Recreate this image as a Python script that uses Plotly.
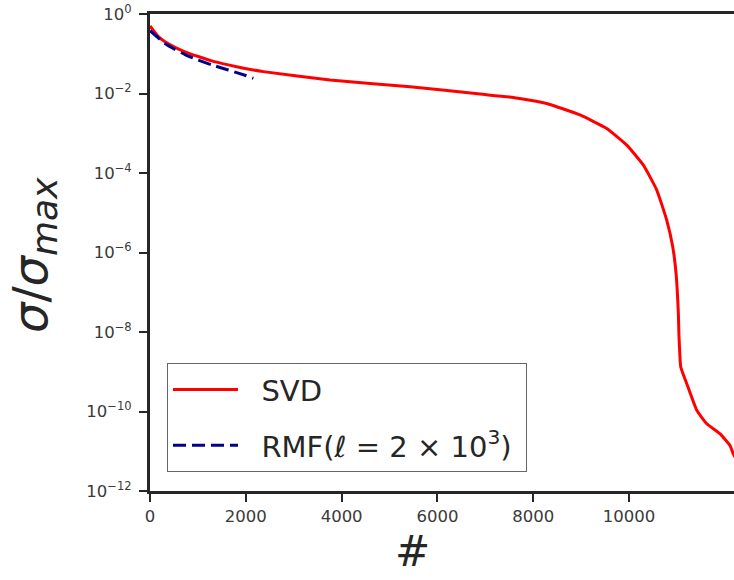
import plotly.graph_objects as go

# SVD normalized singular values (index, sigma/sigma_max)
svd_idx = [0, 174, 313, 522, 731, 1008, 1287, 1635, 1983, 2366, 3758, 5428,
           6889, 7585, 8281, 8977, 9534, 9952, 10299, 10578, 10787, 10912, 10981,
           11029, 11040, 11079, 11204, 11413, 11622, 11900, 12109, 12177, 12300]
svd_val = [0.50, 0.269, 0.200, 0.145, 0.112, 0.0851, 0.0661, 0.0525, 0.0427,
           0.0355, 0.0219, 0.0148, 0.00966, 0.00794, 0.00562, 0.00288, 0.00132,
           5.01e-4, 1.58e-4, 3.72e-5, 6.46e-6, 1.38e-6, 2.95e-7, 2.88e-8, 9.12e-9,
           1.32e-9, 5.01e-10, 1.07e-10, 4.90e-11, 2.75e-11, 1.38e-11, 8.51e-12, 5.0e-12]

# RMF estimate (l = 2e3)
rmf_idx = [0, 313, 522, 731, 1008, 1287, 1635, 1983, 2157]
rmf_val = [0.38, 0.182, 0.129, 0.0955, 0.0692, 0.0525, 0.0389, 0.0288, 0.0240]

xticks = [0, 2000, 4000, 6000, 8000, 10000]
yticks = [1e0, 1e-2, 1e-4, 1e-6, 1e-8, 1e-10, 1e-12]
yticktext = ["10<sup>0</sup>", "10<sup>−2</sup>", "10<sup>−4</sup>", "10<sup>−6</sup>",
             "10<sup>−8</sup>", "10<sup>−10</sup>", "10<sup>−12</sup>"]

fig = go.Figure()
fig.add_trace(go.Scatter(x=svd_idx, y=svd_val, mode="lines",
                         name="&nbsp;&nbsp;SVD", legendgroup="a",
                         line=dict(color="#ff0000", width=3, shape="spline", smoothing=0.4)))
fig.add_trace(go.Scatter(x=rmf_idx, y=rmf_val, mode="lines",
                         name="&nbsp;&nbsp;RMF(<i>ℓ</i> = 2 × 10<sup>3</sup>)&nbsp;",
                         legendgroup="b",
                         line=dict(color="#00008b", width=3, dash="13px,6px",
                                   shape="spline", smoothing=0.4)))

axis_col = "#262626"
fig.update_layout(
    width=734, height=580,
    margin=dict(l=150, r=0, t=14, b=89),
    paper_bgcolor="white", plot_bgcolor="white",
    font=dict(family="DejaVu Sans", color="#333333"),
    showlegend=True,
    legend=dict(x=0.0291, y=0.268, xanchor="left", yanchor="top",
                bordercolor="#666666", borderwidth=1, bgcolor="white",
                font=dict(size=29, color="#262626"),
                tracegroupgap=15, itemwidth=65, traceorder="grouped"),
    xaxis=dict(range=[0, 12190], tickvals=xticks, ticktext=[str(v) for v in xticks],
               automargin=False,
               showline=True, linecolor=axis_col, linewidth=3, mirror=True,
               ticks="outside", ticklen=8, tickwidth=1.5, tickcolor=axis_col,
               showgrid=False, zeroline=False,
               tickfont=dict(size=16.5, color="#3a3a3a")),
    yaxis=dict(type="log", range=[-12, 0], tickvals=yticks, ticktext=yticktext,
               automargin=False,
               showline=True, linecolor=axis_col, linewidth=3, mirror=False,
               ticks="outside", ticklen=8, tickwidth=1.5, tickcolor=axis_col,
               showgrid=False, zeroline=False, ticklabelstandoff=4,
               tickfont=dict(size=16.5, color="#3a3a3a")),
    annotations=[
        dict(text="#", xref="paper", yref="paper", x=(412 - 150) / 584,
             y=(491 - 551) / 477, xanchor="center", yanchor="middle",
             showarrow=False, font=dict(size=42, color="#262626")),
        dict(text="<i>σ</i>/<i>σ</i><sub><span style='font-size:36px'><i>max</i></span></sub>",
             xref="paper", yref="paper",
             x=(33 - 150) / 584, y=(491 - 255) / 477, xanchor="center",
             yanchor="middle", textangle=-90, showarrow=False,
             font=dict(size=48, color="#262626")),
    ],
)

fig.write_html("out.html", config={"displayModeBar": False},
               post_script="document.body.style.margin='0px';"
                           "document.body.style.overflow='hidden';")
